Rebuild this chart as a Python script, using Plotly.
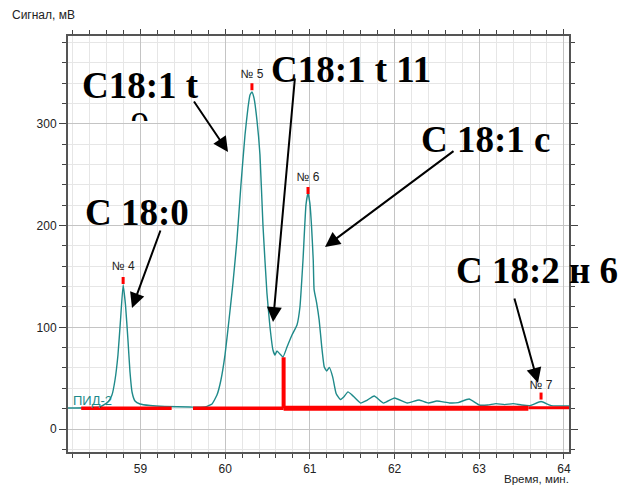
import plotly.graph_objects as go

# ---------------- data ----------------
time_min = [58.144, 58.52, 58.616, 58.663, 58.699, 58.734, 58.764, 58.795, 58.823, 58.852,
            58.876, 58.90, 58.935, 58.994, 59.112, 59.289, 59.584, 59.762, 59.844, 59.903,
            59.95, 59.998, 60.045, 60.092, 60.139, 60.186, 60.234, 60.269, 60.293, 60.316,
            60.34, 60.375, 60.411, 60.446, 60.493, 60.529, 60.564, 60.588, 60.612, 60.647,
            60.683, 60.73, 60.789, 60.848, 60.883, 60.919, 60.954, 60.978, 61.00, 61.02,
            61.04, 61.05, 61.08, 61.11, 61.14, 61.17, 61.20, 61.23, 61.27, 61.31,
            61.36, 61.40, 61.45, 61.51, 61.60, 61.67, 61.76, 61.87, 62.00, 62.15,
            62.29, 62.40, 62.50, 62.65, 62.75, 62.88, 63.00, 63.10, 63.20, 63.30,
            63.40, 63.50, 63.60, 63.73, 63.85, 64.06]
signal_mv = [20.6, 21.6, 26.5, 33.4, 48.2, 72.8, 107.2, 141.6, 121.9, 87.5,
             56.0, 36.4, 27.5, 24.6, 23.1, 22.1, 21.6, 21.6, 24.6, 33.4,
             48.2, 72.8, 107.2, 143.6, 185.8, 239.9, 289.1, 315.6, 328.4, 331.4,
             325.5, 303.8, 269.4, 200.6, 133.7, 100.3, 77.7, 72.8, 76.7, 73.7,
             70.8, 80.6, 92.4, 102.3, 120.0, 166.2, 220.3, 232.0, 222.0, 199.0,
             166.0, 137.0, 124.0, 107.0, 81.0, 61.0, 57.0, 60.6, 51.0, 35.0,
             29.0, 31.5, 36.5, 32.5, 25.5, 28.0, 32.5, 25.5, 30.5, 25.6,
             28.5, 25.6, 27.5, 25.6, 26.0, 29.5, 23.6, 23.6, 25.0, 24.0,
             25.0, 23.6, 23.0, 27.0, 23.0, 22.6]

# integration baseline (red)
base_thin_x = [58.30, 59.368, None, 59.62, 60.69]
base_thin_y = [20.5, 20.5, None, 20.5, 20.5]
base_drop_x = [60.69, 60.69]
base_drop_y = [70.5, 20.5]
base_thick_x = [60.69, 63.58]
base_thick_y = [20.5, 20.5]
base_tail_x = [63.58, 64.06]
base_tail_y = [21.0, 21.0]

# peak marks
peak_names = ["№ 4", "№ 5", "№ 6", "№ 7"]
peak_times = [58.795, 60.316, 60.978, 63.73]
peak_marks = [146.0, 336.5, 234.5, 32.4]
peak_label_y = [159.3, 348.0, 246.8, 42.3]

# big labels (text, centre px x, centre px y) and arrows (tail px, tip px)
big_labels = ["C18:1 t", "C18:1 t 11", "C 18:1 c", "C 18:0", "C 18:2 н 6"]
big_label_px = [(140, 85), (351, 69), (485.5, 139.5), (136.5, 212.5), (537, 270.5)]
arrow_tail_px = [(193, 100), (295, 77), (455, 150), (161, 229), (514, 297)]
arrow_tip_px = [(228, 152), (273, 322), (325, 247), (132, 308), (538, 383)]

x_ticks = [59, 60, 61, 62, 63, 64]
y_ticks = [0, 100, 200, 300]

# ---------------- geometry ----------------
W, H = 619, 485
L, R, T, B = 68, 50, 36, 33
PW, PH = W - L - R, H - T - B


def px_x(px):
    return (px - L) / PW


def px_y(py):
    return (H - B - py) / PH


TEAL = "#1f8a8a"
RED = "#ff0000"

fig = go.Figure()

fig.add_trace(go.Scatter(x=time_min, y=signal_mv, mode="lines",
                         line=dict(color=TEAL, width=1.4, shape="spline", smoothing=0.4),
                         hoverinfo="skip", showlegend=False))

for xs, ys, w in [(base_thin_x, base_thin_y, 3.5), (base_drop_x, base_drop_y, 4),
                  (base_thick_x, base_thick_y, 5), (base_tail_x, base_tail_y, 3)]:
    fig.add_trace(go.Scatter(x=xs, y=ys, mode="lines", line=dict(color=RED, width=w),
                             hoverinfo="skip", showlegend=False))

fig.add_trace(go.Scatter(x=peak_times, y=peak_marks, mode="markers",
                         marker=dict(symbol="line-ns", size=5, line=dict(color=RED, width=3)),
                         hoverinfo="skip", showlegend=False))
fig.add_trace(go.Scatter(x=peak_times, y=peak_label_y, mode="text", text=peak_names,
                         textfont=dict(family="Liberation Sans", size=12, color="#222222"),
                         hoverinfo="skip", showlegend=False))

# clipped second line of the first label ("9"), clipped by a hidden subplot
clip_bottom_py = 121
fig.add_trace(go.Scatter(x=[px_x(140)], y=[(clip_bottom_py - 128.5) / (clip_bottom_py - T)],
                         xaxis="x2", yaxis="y2", mode="text", text=["9"],
                         textfont=dict(family="Liberation Serif", size=37, color="black"),
                         cliponaxis=True, hoverinfo="skip", showlegend=False))

annotations = []
for txt, (cx, cy) in zip(big_labels, big_label_px):
    annotations.append(dict(text="<b>%s</b>" % txt, x=px_x(cx), y=px_y(cy), xref="paper", yref="paper",
                            xanchor="center", yanchor="middle", showarrow=False,
                            font=dict(family="Liberation Serif", size=37, color="black")))
for (tx, ty), (hx, hy) in zip(arrow_tail_px, arrow_tip_px):
    annotations.append(dict(text="", x=px_x(hx), y=px_y(hy), xref="paper", yref="paper",
                            ax=tx - hx, ay=ty - hy, showarrow=True, arrowhead=2,
                            arrowsize=1.5, arrowwidth=2, arrowcolor="black", standoff=0))
annotations.append(dict(text="Сигнал, мВ", x=px_x(10), y=px_y(15), xref="paper", yref="paper",
                        xanchor="left", yanchor="middle", showarrow=False,
                        font=dict(family="Liberation Sans", size=12, color="#222222")))
annotations.append(dict(text="Время, мин.", x=px_x(571), y=px_y(479), xref="paper", yref="paper",
                        xanchor="right", yanchor="middle", showarrow=False,
                        font=dict(family="Liberation Sans", size=11.5, color="#222222")))
annotations.append(dict(text="ПИД-2", x=px_x(71), y=px_y(400), xref="paper", yref="paper",
                        xanchor="left", yanchor="middle", showarrow=False,
                        font=dict(family="Liberation Sans", size=13, color=TEAL)))

axis_common = dict(showline=True, linecolor="#555555", linewidth=2, mirror="allticks",
                   ticks="outside", tickwidth=1, tickcolor="#444444",
                   showgrid=True, gridcolor="#c4c4c4", gridwidth=1, zeroline=False,
                   automargin=False,
                   tickfont=dict(family="Liberation Sans", size=12, color="#222222"))

fig.update_layout(
    width=W, height=H,
    margin=dict(l=L, r=R, t=T, b=B, autoexpand=False),
    paper_bgcolor="white", plot_bgcolor="rgba(0,0,0,0)",
    showlegend=False,
    annotations=annotations,
    xaxis=dict(range=[58.144, 64.06], tickvals=x_ticks, ticklen=5,
               minor=dict(dtick=0.2, tick0=0, ticks="outside", ticklen=4, tickcolor="#444444",
                          showgrid=True, gridcolor="#e6e6e6", gridwidth=1),
               **axis_common),
    yaxis=dict(range=[-22.6, 386.4], tickvals=y_ticks, ticklen=7,
               minor=dict(dtick=20, tick0=0, ticks="outside", ticklen=4, tickcolor="#444444",
                          showgrid=True, gridcolor="#e6e6e6", gridwidth=1),
               **axis_common),
    xaxis2=dict(domain=[0, 1], anchor="y2", range=[0, 1], visible=False, automargin=False),
    yaxis2=dict(domain=[px_y(clip_bottom_py), 1], anchor="x2", range=[0, 1], visible=False,
                automargin=False),
)

fig.write_html("out.html")
